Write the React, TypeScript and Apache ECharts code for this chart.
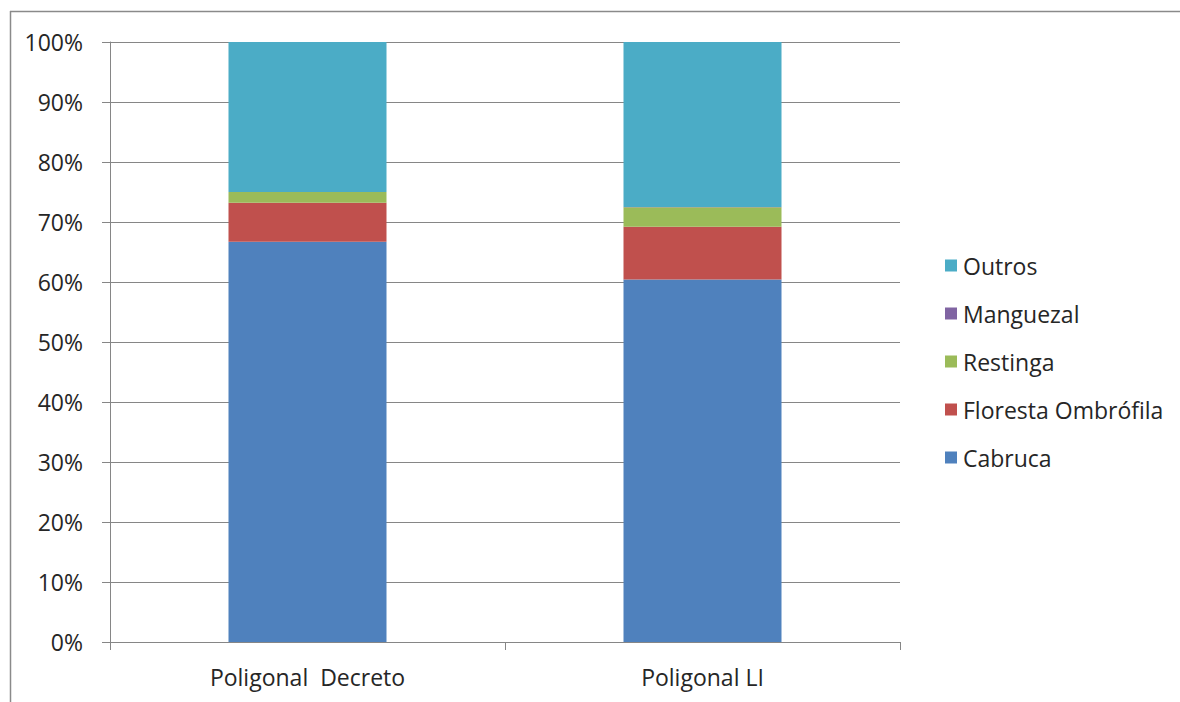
import React, { useEffect, useRef } from "react";
import * as echarts from "echarts";

const categories = ["Poligonal  Decreto", "Poligonal LI"];
const cabruca = [66.7, 60.4];
const floresta = [6.5, 8.8];
const restinga = [1.8, 3.25];
const manguezal = [0, 0.05];
const outros = [25.0, 27.5];
const yTicks = [0, 10, 20, 30, 40, 50, 60, 70, 80, 90, 100];
const legendOrder = ["Outros", "Manguezal", "Restinga", "Floresta Ombrófila", "Cabruca"];

const FONT = "Open Sans";
const FS = 23;
const TEXT = "#262626";
const GRID = "#868686";

export default function App() {
  const ref = useRef<HTMLDivElement>(null);
  useEffect(() => {
    if (!ref.current) return;
    const chart = echarts.init(ref.current, undefined, { renderer: "svg" });
    const mk = (name: string, data: number[], color: string) => ({
      name,
      type: "bar",
      stack: "total",
      data,
      barWidth: 158,
      itemStyle: { color },
    });
    chart.setOption({
      animation: false,
      backgroundColor: "#ffffff",
      textStyle: { fontFamily: FONT },
      grid: { left: 110, right: 280, top: 42, bottom: 60 },
      legend: {
        orient: "vertical",
        left: 940,
        top: 249,
        itemWidth: 12,
        itemHeight: 12,
        itemGap: 25,
        icon: "rect",
        data: legendOrder,
        textStyle: { fontFamily: FONT, fontSize: FS, color: TEXT, padding: [0, 0, 0, 1] },
      },
      xAxis: {
        type: "category",
        data: categories,
        axisLine: { show: true, lineStyle: { color: GRID, width: 1 } },
        axisTick: { show: true, length: 8, lineStyle: { color: GRID } },
        axisLabel: { fontFamily: FONT, fontSize: FS, lineHeight: 23, color: TEXT, margin: 23 },
      },
      yAxis: {
        type: "value",
        min: 0,
        max: 100,
        interval: 10,
        axisLine: { show: true, lineStyle: { color: GRID, width: 1 } },
        axisTick: { show: true, length: 8, lineStyle: { color: GRID } },
        splitLine: { show: true, lineStyle: { color: GRID, width: 1 } },
        axisLabel: {
          fontFamily: FONT,
          fontSize: FS,
          color: TEXT,
          margin: 27,
          formatter: (v: number) => (yTicks.includes(v) ? `${v}%` : ""),
        },
      },
      series: [
        mk("Cabruca", cabruca, "#4F81BD"),
        mk("Floresta Ombrófila", floresta, "#C0504D"),
        mk("Restinga", restinga, "#9BBB59"),
        mk("Manguezal", manguezal, "#8064A2"),
        mk("Outros", outros, "#4BACC6"),
      ],
      graphic: [
        { type: "line", shape: { x1: 10, y1: 11.5, x2: 1180, y2: 11.5 }, style: { stroke: "#8a8a8a", lineWidth: 1.5 } },
        { type: "line", shape: { x1: 10.5, y1: 11, x2: 10.5, y2: 702 }, style: { stroke: "#8a8a8a", lineWidth: 1.5 } },
      ],
    });
    return () => chart.dispose();
  }, []);
  return <div ref={ref} style={{ position: "fixed", left: 0, top: 0, width: 1180, height: 702 }} />;
}
